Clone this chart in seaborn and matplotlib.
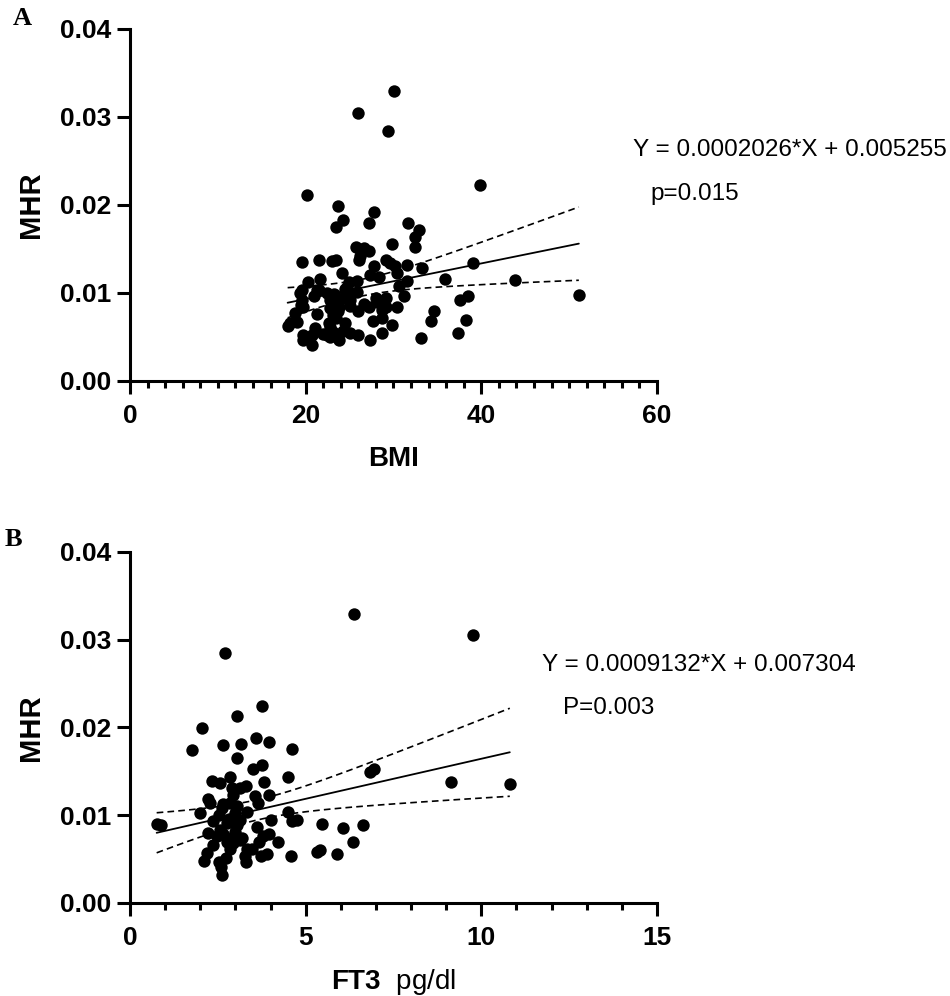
import numpy as np
import pandas as pd
import seaborn as sns
import matplotlib.pyplot as plt
from matplotlib.ticker import MultipleLocator

# Datos
bmi = [30.1, 26.0, 29.4, 39.9, 20.2, 23.7, 27.8, 24.3, 23.5, 27.2, 31.6, 32.9, 32.4, 32.4,
       29.8, 25.7, 27.2, 26.1, 19.6, 21.5, 23.0, 23.4, 29.2, 27.8, 30.2, 31.5, 33.2, 39.1,
       24.1, 27.3, 28.3, 30.4, 35.9, 43.8, 31.5, 20.3, 21.6, 24.9, 25.8, 30.6, 19.6, 21.5,
       24.5, 25.8, 51.1, 38.5, 37.6, 31.2, 20.9, 23.2, 19.6, 22.8, 24.3, 26.6, 28.0, 29.1,
       19.7, 22.8, 23.8, 25.0, 26.0, 27.2, 28.7, 30.4, 34.6, 18.8, 21.3, 23.1, 23.5, 28.7,
       27.7, 34.3, 38.2, 18.2, 17.95, 19.0, 22.7, 24.5, 29.8, 21.1, 22.8, 24.3, 25.0, 26.0,
       28.7, 19.7, 20.7, 22.0, 22.8, 37.3, 19.7, 23.8, 27.3, 33.1, 20.7, 22.4, 23.1, 23.3,
       23.7, 24.6, 25.0, 28.1, 28.7, 29.1, 26.6, 26.2, 29.6, 24.7, 21.3, 19.4, 22.4, 19.5]
mhr_a = [0.0329, 0.0304, 0.0284, 0.0223, 0.0211, 0.0199, 0.0192, 0.0183, 0.0175, 0.0180,
         0.0180, 0.0172, 0.0164, 0.0152, 0.0156, 0.0152, 0.0148, 0.0138, 0.0135, 0.0137,
         0.0136, 0.0137, 0.0137, 0.0131, 0.0131, 0.0132, 0.0128, 0.0134, 0.0123, 0.0120,
         0.0118, 0.0123, 0.0116, 0.0115, 0.0114, 0.0113, 0.0116, 0.0112, 0.0114, 0.0108,
         0.0103, 0.0103, 0.0105, 0.0101, 0.0098, 0.0097, 0.0092, 0.0097, 0.0097, 0.0099,
         0.0092, 0.0092, 0.0094, 0.0088, 0.0094, 0.0094, 0.0084, 0.0083, 0.0084, 0.0085,
         0.0079, 0.0084, 0.0081, 0.0084, 0.0080, 0.0077, 0.0076, 0.0075, 0.0071, 0.0071,
         0.0068, 0.0068, 0.0069, 0.0066, 0.0062, 0.0067, 0.0066, 0.0066, 0.0064, 0.0060,
         0.0061, 0.0057, 0.0055, 0.0052, 0.0055, 0.0052, 0.0052, 0.0053, 0.0050, 0.0055,
         0.0047, 0.0046, 0.0046, 0.0049, 0.0041, 0.0052, 0.0056, 0.0088, 0.0079, 0.0100,
         0.0092, 0.0090, 0.0086, 0.0084, 0.0151, 0.0142, 0.0134, 0.0107, 0.0103, 0.0100,
         0.0100, 0.0086]

ft3 = [6.38, 9.76, 2.71, 3.77, 3.04, 2.05, 1.76, 2.64, 3.16, 3.59, 3.97, 4.62, 3.06, 3.51,
       3.77, 4.51, 3.82, 2.33, 2.55, 2.85, 6.82, 6.95, 9.15, 10.81, 3.13, 3.30, 3.56, 3.97,
       2.23, 2.94, 3.63, 2.66, 2.28, 2.85, 3.34, 1.99, 4.50, 2.52, 2.99, 4.01, 4.61, 4.75,
       0.76, 0.87, 2.37, 2.75, 3.13, 3.61, 5.46, 6.06, 6.63, 2.23, 2.56, 2.99, 3.97, 3.80,
       4.20, 2.37, 2.75, 3.18, 2.85, 3.32, 3.66, 6.36, 5.41, 5.32, 5.90, 4.58, 2.20, 3.28,
       3.72, 3.89, 2.12, 2.53, 2.72, 3.30, 2.59, 2.62, 2.97, 2.66, 3.04, 2.81, 3.13, 2.94,
       3.47, 2.47, 2.61, 3.06, 2.90]
mhr_b = [0.0329, 0.0305, 0.0285, 0.0224, 0.0213, 0.0199, 0.0174, 0.0180, 0.0181, 0.0188,
         0.0184, 0.0175, 0.0165, 0.0153, 0.0157, 0.0144, 0.0138, 0.0139, 0.0137, 0.0143,
         0.0149, 0.0153, 0.0138, 0.0136, 0.0131, 0.0133, 0.0122, 0.0123, 0.0119, 0.0123,
         0.0114, 0.0113, 0.0114, 0.0114, 0.0104, 0.0102, 0.0104, 0.0100, 0.0102, 0.0095,
         0.0093, 0.0094, 0.0090, 0.0089, 0.0093, 0.0091, 0.0095, 0.0087, 0.0090, 0.0085,
         0.0089, 0.0080, 0.0083, 0.0081, 0.0079, 0.0076, 0.0069, 0.0066, 0.0070, 0.0074,
         0.0062, 0.0061, 0.0070, 0.0069, 0.0060, 0.0058, 0.0056, 0.0053, 0.0057, 0.0054,
         0.0053, 0.0056, 0.0048, 0.0047, 0.0051, 0.0047, 0.0041, 0.0032, 0.0076, 0.0079,
         0.0089, 0.0096, 0.0072, 0.0068, 0.0062, 0.0076, 0.0108, 0.0110, 0.0131]

# Ecuaciones de regresión del gráfico
pendiente_a, intercepto_a = 0.0002026, 0.005255
pendiente_b, intercepto_b = 0.0009132, 0.007304
texto_a = ["Y = 0.0002026*X + 0.005255", "p=0.015"]
texto_b = ["Y = 0.0009132*X + 0.007304", "P=0.003"]


def banda_confianza(x, y, m, b, t=1.98):
    x = np.asarray(x)
    y = np.asarray(y)
    xs = np.linspace(x.min(), x.max(), 100)
    resid = y - (m * x + b)
    s = np.sqrt(np.sum(resid ** 2) / (len(x) - 2))
    sxx = np.sum((x - x.mean()) ** 2)
    se = s * np.sqrt(1 / len(x) + (xs - x.mean()) ** 2 / sxx)
    fit = m * xs + b
    return xs, fit, fit - t * se, fit + t * se


def graficar_panel(ax, x, y, m, b, xmax, xmajor, xminor):
    df = pd.DataFrame({"x": x, "y": y})
    sns.scatterplot(data=df, x="x", y="y", ax=ax, color="black", s=80,
                    edgecolor="black", linewidth=0, zorder=3)
    xs, fit, lo, hi = banda_confianza(x, y, m, b)
    ax.plot(xs, fit, color="black", lw=1.3, zorder=4)
    ax.plot(xs, lo, color="black", lw=1.2, ls=(0, (4, 2.5)), zorder=4)
    ax.plot(xs, hi, color="black", lw=1.2, ls=(0, (4, 2.5)), zorder=4)

    ax.set_xlim(0, xmax)
    ax.set_ylim(0, 0.04)
    ax.xaxis.set_major_locator(MultipleLocator(xmajor))
    ax.xaxis.set_minor_locator(MultipleLocator(xminor))
    ax.yaxis.set_major_locator(MultipleLocator(0.01))
    ax.yaxis.set_major_formatter(plt.FormatStrFormatter("%.2f"))
    sns.despine(ax=ax)
    for sp in ["left", "bottom"]:
        ax.spines[sp].set_linewidth(2.2)
        ax.spines[sp].set_color("black")
    ax.tick_params(which="major", length=9.5, width=2.2, labelsize=19, color="black",
                   labelcolor="black")
    ax.tick_params(which="minor", length=5, width=2.2, color="black")
    ax.tick_params(axis="x", pad=7)
    ax.tick_params(axis="y", pad=4)
    for lab in ax.get_xticklabels() + ax.get_yticklabels():
        lab.set_fontweight("bold")
    ax.set_ylabel("MHR", fontsize=21, fontweight="bold", labelpad=11)


sns.set_style("ticks")
plt.rcParams["font.family"] = ["Liberation Sans", "DejaVu Sans"]
plt.rcParams["text.color"] = "black"
plt.rcParams["axes.labelcolor"] = "black"
plt.rcParams["mathtext.fontset"] = "custom"
plt.rcParams["mathtext.rm"] = "Liberation Sans"
plt.rcParams["mathtext.bf"] = "Liberation Sans:bold"

fig = plt.figure(figsize=(9.5, 9.96), dpi=100)
ax1 = fig.add_axes([0.1368, 0.6175, 0.5548, 0.3534])
ax2 = fig.add_axes([0.1368, 0.0934, 0.5548, 0.3524])

graficar_panel(ax1, bmi, mhr_a, pendiente_a, intercepto_a, 60, 20, 2)
ax1.set_xlabel("BMI", fontsize=20, fontweight="bold", labelpad=13)

graficar_panel(ax2, ft3, mhr_b, pendiente_b, intercepto_b, 15, 5, 1)
ax2.set_xlabel(r"$\mathbf{FT3}$  pg/dl", fontsize=20, labelpad=12)

fig.text(0.666, 1 - 150 / 996, texto_a[0], fontsize=17.5, va="center")
fig.text(0.685, 1 - 194 / 996, texto_a[1], fontsize=17.5, va="center")
fig.text(0.570, 1 - 665 / 996, texto_b[0], fontsize=17.5, va="center")
fig.text(0.593, 1 - 708 / 996, texto_b[1], fontsize=17.5, va="center")

fig.text(0.013, 1 - 7 / 996, "A", fontsize=19, fontweight="bold",
         family="Liberation Serif", va="top")
fig.text(0.005, 1 - 528 / 996, "B", fontsize=19, fontweight="bold",
         family="Liberation Serif", va="top")

plt.savefig("out.png", dpi=100)
